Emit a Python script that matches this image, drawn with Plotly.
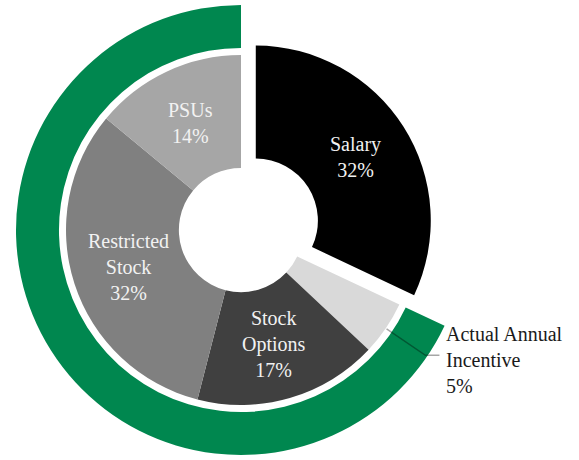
import math
import plotly.graph_objects as go

# ---- data ----
categories = ["Salary", "Actual Annual Incentive", "Stock Options", "Restricted Stock", "PSUs"]
values = [32, 5, 17, 32, 14]
label_text = ["Salary<br>32%", "Actual Annual<br>Incentive<br>5%", "Stock<br>Options<br>17%",
              "Restricted<br>Stock<br>32%", "PSUs<br>14%"]
pulls = [0.1, 0, 0, 0, 0]
ring_categories = ["Fixed", "At-risk"]
ring_values = [32, 68]

slice_colors = ["#000000", "#d9d9d9", "#404040", "#808080", "#a6a6a6"]
ring_colors = ["rgba(0,0,0,0)", "#00874f"]

W, H = 579, 460
cx, cy = 241, 230          # pie centre in pixels
R_ring = 225               # outer radius of green ring
ring_hole = 0.809
R_pie = 175                # radius of the inner pie
pie_hole = 0.355
max_pull = max(pulls)

def px_to_paper(x, y):
    return x / W, 1 - y / H

def dom(half):
    x0, y1 = px_to_paper(cx - half, cy - half)
    x1, y0 = px_to_paper(cx + half, cy + half)
    return dict(x=[x0, x1], y=[y0, y1])

fig = go.Figure()
fig.add_trace(go.Pie(
    labels=ring_categories, values=ring_values, hole=ring_hole, sort=False,
    direction="clockwise", rotation=0, textinfo="none", hoverinfo="skip",
    marker=dict(colors=ring_colors, line=dict(width=0)),
    domain=dom(R_ring), showlegend=False,
))
fig.add_trace(go.Pie(
    labels=categories, values=values, hole=pie_hole, sort=False, pull=pulls,
    direction="clockwise", rotation=0, textinfo="none", hoverinfo="label+percent",
    marker=dict(colors=slice_colors, line=dict(width=0)),
    domain=dom(R_pie * (1 + max_pull)), showlegend=False,
))

total = sum(values)
font_family = "Liberation Serif, Times New Roman, serif"
annotations = []
shapes = []
cum = 0
r_mid = R_pie * (1 + pie_hole) / 2
for i, v in enumerate(values):
    mid = (cum + v / 2) / total * 2 * math.pi
    cum += v
    ox = pulls[i] * R_pie * math.sin(mid)
    oy = -pulls[i] * R_pie * math.cos(mid)
    if categories[i] == "Actual Annual Incentive":
        x0 = cx + (R_pie + 1) * math.sin(mid)
        y0 = cy - (R_pie + 1) * math.cos(mid)
        x1 = cx + 223 * math.sin(mid)
        y1 = cy - 223 * math.cos(mid)
        x2 = x1 + 14
        p0 = px_to_paper(x0, y0); p1 = px_to_paper(x1, y1); p2 = px_to_paper(x2, y1)
        shapes.append(dict(type="path", xref="paper", yref="paper",
                           path=f"M {p0[0]} {p0[1]} L {p1[0]} {p1[1]} L {p2[0]} {p2[1]}",
                           line=dict(color="rgba(0,0,0,0.35)", width=1.5)))
        tx, ty = px_to_paper(x2 + 5, y1 + 5)
        annotations.append(dict(x=tx, y=ty, xref="paper", yref="paper", text=label_text[i],
                                showarrow=False, xanchor="left", yanchor="middle", align="left",
                                font=dict(family=font_family, size=20, color="#1a1a1a")))
    else:
        x = cx + ox + r_mid * math.sin(mid)
        y = cy + oy - r_mid * math.cos(mid)
        tx, ty = px_to_paper(x, y)
        annotations.append(dict(x=tx, y=ty, xref="paper", yref="paper", text=label_text[i],
                                showarrow=False, xanchor="center", yanchor="middle", align="center",
                                font=dict(family=font_family, size=20, color="#f2f2f2")))

fig.update_layout(
    width=W, height=H, margin=dict(l=0, r=0, t=0, b=0),
    paper_bgcolor="white", plot_bgcolor="white",
    annotations=annotations, shapes=shapes, showlegend=False,
)
fig.write_html("out.html", config={"displayModeBar": False},
               post_script="document.body.style.margin='0';")
